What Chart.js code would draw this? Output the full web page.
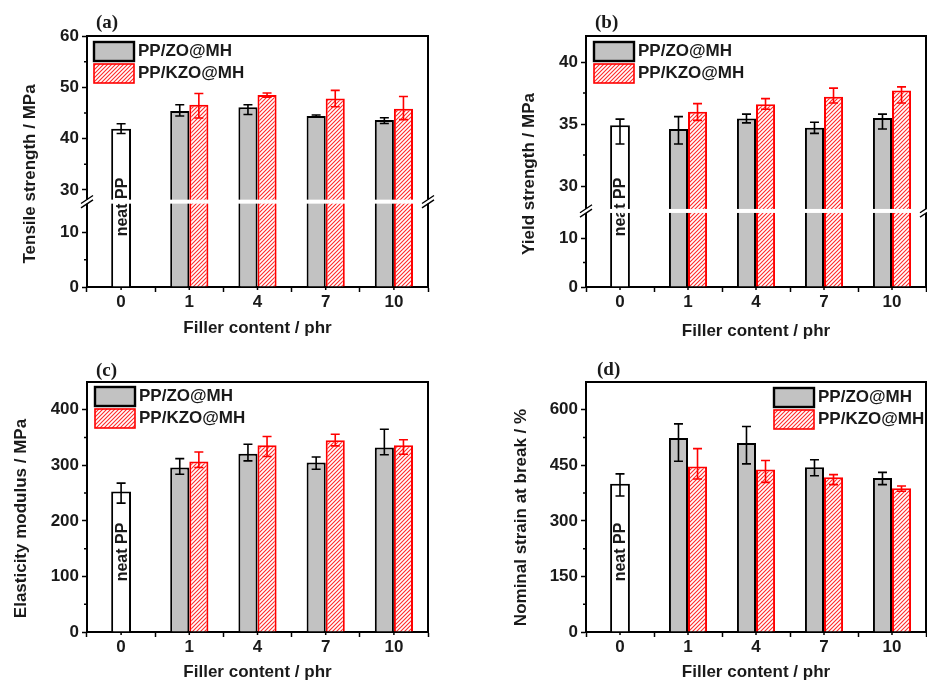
<!DOCTYPE html>
<html>
<head>
<meta charset="utf-8">
<script src="https://cdn.jsdelivr.net/npm/chart.js@4.4.1/dist/chart.umd.min.js"></script>
<style>
  body { margin: 0; background: #fff; }
  #wrap { position: relative; width: 927px; height: 682px; overflow: hidden; }
  canvas { position: absolute; }
</style>
</head>
<body>
<div id="wrap">
  <canvas id="chartA" width="460" height="340" style="left:0;top:0"></canvas>
  <canvas id="chartB" width="467" height="340" style="left:460px;top:0"></canvas>
  <canvas id="chartC" width="460" height="342" style="left:0;top:340px"></canvas>
  <canvas id="chartD" width="467" height="342" style="left:460px;top:340px"></canvas>
</div>
<script>
const categories = ['0', '1', '4', '7', '10'];
const seriesNames = ['PP/ZO@MH', 'PP/KZO@MH'];

// error bars are [minus, plus]
// (a) tensile strength / MPa
const tensileNeat = [41.9, null, null, null, null];
const tensileNeatErr = [[0.9, 1.0], null, null, null, null];
const tensileZO = [null, 45.4, 46.1, 44.4, 43.6];
const tensileZOErr = [null, [1.0, 1.2], [1.4, 0.5], [0.2, 0.2], [0.65, 0.45]];
const tensileKZO = [null, 46.6, 48.5, 47.8, 45.8];
const tensileKZOErr = [null, [2.6, 2.2], [0.45, 0.4], [1.6, 1.6], [2.1, 2.4]];

// (b) yield strength / MPa
const yieldNeat = [34.9, null, null, null, null];
const yieldNeatErr = [[1.5, 0.5], null, null, null, null];
const yieldZO = [null, 34.6, 35.45, 34.7, 35.5];
const yieldZOErr = [null, [1.2, 1.0], [0.35, 0.35], [0.45, 0.45], [0.9, 0.3]];
const yieldKZO = [null, 36.0, 36.6, 37.2, 37.7];
const yieldKZOErr = [null, [0.7, 0.65], [0.4, 0.45], [0.5, 0.7], [1.0, 0.3]];

// (c) elasticity modulus / MPa
const modulusNeat = [253, null, null, null, null];
const modulusNeatErr = [[21, 15], null, null, null, null];
const modulusZO = [null, 296, 321, 305, 332];
const modulusZOErr = [null, [12, 16], [13, 17], [12, 10], [13, 33]];
const modulusKZO = [null, 307, 336, 345, 336];
const modulusKZOErr = [null, [11, 17], [20, 16], [10, 11], [16, 10]];

// (d) nominal strain at break / %
const strainNeat = [400, null, null, null, null];
const strainNeatErr = [[33, 27], null, null, null, null];
const strainZO = [null, 524, 510, 445, 416];
const strainZOErr = [null, [63, 38], [56, 45], [23, 20], [18, 15]];
const strainKZO = [null, 447, 439, 418, 388];
const strainKZOErr = [null, [34, 48], [35, 24], [20, 7], [8, 6]];

const tensileTicks = [0, 10, 30, 40, 50, 60];
const yieldTicks = [0, 10, 30, 35, 40];
const modulusTicks = [0, 100, 200, 300, 400];
const strainTicks = [0, 150, 300, 450, 600];

const FONT = "'Liberation Sans', Arial, Helvetica, sans-serif";
const INK = '#1a1a1a';

// y scale with a gap between brk.lo and brk.hi
class BrokenScale extends Chart.LinearScale {
  static id = 'broken';
  static defaults = Chart.LinearScale.defaults;
  getPixelForValue(value) {
    if (value === null || isNaN(value)) return NaN;
    const b = this.options.brk;
    if (!b) return super.getPixelForValue(value);
    let dec;
    if (value <= b.lo) dec = (value - this.min) / (b.lo - this.min) * b.frac;
    else if (value >= b.hi) dec = b.frac + (value - b.hi) / (this.max - b.hi) * (1 - b.frac);
    else dec = b.frac;
    return this.getPixelForDecimal(dec);
  }
}
Chart.register(BrokenScale);

// red diagonal hatch
const hatch = (function() {
  const c = document.createElement('canvas');
  c.width = c.height = 4;
  const g = c.getContext('2d');
  g.fillStyle = '#fff';
  g.fillRect(0, 0, 4, 4);
  g.strokeStyle = '#ff2a2a';
  g.lineWidth = 1.1;
  g.beginPath();
  g.moveTo(0, 4); g.lineTo(4, 0);
  g.moveTo(-1, 1); g.lineTo(1, -1);
  g.moveTo(3, 5); g.lineTo(5, 3);
  g.stroke();
  return g.createPattern(c, 'repeat');
})();

const decor = {
  id: 'decor',
  afterDatasetsDraw(chart, args, opts) {
    const ctx = chart.ctx;
    const y = chart.scales.y;
    const area = chart.chartArea;
    // error bars
    chart.data.datasets.forEach((ds, di) => {
      const meta = chart.getDatasetMeta(di);
      ds.errors.forEach((e, i) => {
        if (!e) return;
        const bar = meta.data[i];
        const v = ds.data[i];
        const top = y.getPixelForValue(v + e[1]);
        const bot = y.getPixelForValue(v - e[0]);
        ctx.save();
        ctx.strokeStyle = ds.errorColor;
        ctx.lineWidth = 1.6;
        ctx.beginPath();
        ctx.moveTo(bar.x, top); ctx.lineTo(bar.x, bot);
        ctx.moveTo(bar.x - 4.5, top); ctx.lineTo(bar.x + 4.5, top);
        ctx.moveTo(bar.x - 4.5, bot); ctx.lineTo(bar.x + 4.5, bot);
        ctx.stroke();
        ctx.restore();
      });
    });
    // label inside the neat PP bar
    const neatBar = chart.getDatasetMeta(0).data[0];
    ctx.save();
    ctx.translate(neatBar.x, area.bottom - 80);
    ctx.rotate(-Math.PI / 2);
    ctx.font = 'bold 16px ' + FONT;
    ctx.fillStyle = INK;
    ctx.textAlign = 'center';
    ctx.textBaseline = 'middle';
    ctx.fillText('neat PP', 0, 1);
    ctx.restore();
  },
  afterDraw(chart, args, opts) {
    const ctx = chart.ctx;
    const area = chart.chartArea;
    const x = chart.scales.x;
    const y = chart.scales.y;
    ctx.save();
    // frame top and right
    ctx.strokeStyle = '#000';
    ctx.lineWidth = 2;
    ctx.beginPath();
    ctx.moveTo(area.left - 1, area.top);
    ctx.lineTo(area.right, area.top);
    ctx.lineTo(area.right, area.bottom + 1);
    ctx.stroke();
    // minor ticks
    ctx.lineWidth = 1.5;
    ctx.beginPath();
    opts.minor.forEach(v => {
      const py = y.getPixelForValue(v);
      ctx.moveTo(area.left - 3, py); ctx.lineTo(area.left, py);
    });
    categories.forEach((c, i) => {
      const px = x.getPixelForValue(i);
      ctx.moveTo(px, area.bottom); ctx.lineTo(px, area.bottom + 3);
    });
    ctx.stroke();
    // axis break
    const b = y.options.brk;
    if (b) {
      const py = y.getPixelForValue(b.lo);
      ctx.fillStyle = '#fff';
      ctx.fillRect(area.left - 6, py - 2, area.right - area.left + 12, 4);
      ctx.strokeStyle = '#000';
      ctx.lineWidth = 1.4;
      ctx.beginPath();
      [area.left, area.right].forEach(ax => {
        [-2.2, 2.2].forEach(d => {
          ctx.moveTo(ax - 6, py + d + 4);
          ctx.lineTo(ax + 6, py + d - 4);
        });
      });
      ctx.stroke();
    }
    // legend inside the plot
    const lg = opts.legend;
    chart.data.datasets.filter(ds => ds.inLegend).forEach((ds, k) => {
      const by = lg.y + k * 22;
      ctx.fillStyle = ds.backgroundColor;
      ctx.fillRect(lg.x, by, 40, 19);
      ctx.strokeStyle = ds.borderColor;
      ctx.lineWidth = k === 0 ? 2.4 : 1.6;
      ctx.strokeRect(lg.x, by, 40, 19);
      ctx.fillStyle = INK;
      ctx.font = 'bold 17px ' + FONT;
      ctx.textAlign = 'left';
      ctx.textBaseline = 'middle';
      ctx.fillText(ds.label, lg.x + 44, by + 9);
    });
    // panel tag
    ctx.fillStyle = INK;
    ctx.font = "bold 19px 'Liberation Serif', 'Times New Roman', serif";
    ctx.textAlign = 'left';
    ctx.textBaseline = 'middle';
    ctx.fillText(opts.tag, opts.tagX, opts.tagY);
    // y axis title
    ctx.translate(opts.yTitleX, opts.yTitleY);
    ctx.rotate(-Math.PI / 2);
    ctx.font = 'bold 17px ' + FONT;
    ctx.textAlign = 'center';
    ctx.fillText(opts.yTitle, 0, 0);
    ctx.restore();
  }
};

function panel(o) {
  return new Chart(document.getElementById(o.id), {
    type: 'bar',
    data: {
      labels: categories,
      datasets: [
        { label: 'neat PP', data: o.neat, errors: o.neatErr, errorColor: '#000',
          backgroundColor: '#fff', borderColor: '#000', borderWidth: 2, barPercentage: 0.52 },
        { label: seriesNames[0], data: o.zo, errors: o.zoErr, errorColor: '#000', inLegend: true,
          backgroundColor: '#c2c2c2', borderColor: '#000', borderWidth: 2 },
        { label: seriesNames[1], data: o.kzo, errors: o.kzoErr, errorColor: '#ff0000', inLegend: true,
          backgroundColor: hatch, borderColor: '#ff0000', borderWidth: 2 }
      ]
    },
    options: {
      responsive: false,
      animation: false,
      devicePixelRatio: 1,
      events: [],
      layout: { padding: { top: o.top, right: o.right, left: 0, bottom: 0 } },
      datasets: { bar: { skipNull: true, categoryPercentage: 0.56, barPercentage: 1 } },
      plugins: {
        legend: { display: false },
        tooltip: { enabled: false },
        decor: {
          minor: o.minor, legend: o.legend, tag: o.tag, tagX: o.tagX, tagY: o.tagY,
          yTitle: o.yTitle, yTitleX: o.yTitleX, yTitleY: o.yTitleY
        }
      },
      scales: {
        x: {
          type: 'category',
          grid: { drawOnChartArea: false, drawTicks: true, tickLength: 5, tickWidth: 1.5, tickColor: '#000', offset: true },
          border: { color: '#000', width: 2 },
          ticks: { padding: 0, color: INK, font: { family: FONT, size: 17, weight: 'bold' } },
          title: { display: true, text: 'Filler content / phr', color: INK,
                   font: { family: FONT, size: 17, weight: 'bold', lineHeight: 1 },
                   padding: { top: 0, bottom: o.xTitlePad } },
          afterFit: s => { s.height = o.axisH; }
        },
        y: {
          type: 'broken',
          min: 0,
          max: o.max,
          brk: o.brk,
          grid: { drawOnChartArea: false, drawTicks: true, tickLength: 5, tickWidth: 1.5, tickColor: '#000' },
          border: { color: '#000', width: 2 },
          ticks: { padding: 3, color: INK, autoSkip: false, font: { family: FONT, size: 17, weight: 'bold' },
                   callback: v => String(v) },
          afterBuildTicks: s => { s.ticks = o.ticks.map(v => ({ value: v })); },
          afterFit: s => { s.width = o.axisW; }
        }
      }
    },
    plugins: [decor]
  });
}

panel({
  id: 'chartA', neat: tensileNeat, neatErr: tensileNeatErr, zo: tensileZO, zoErr: tensileZOErr,
  kzo: tensileKZO, kzoErr: tensileKZOErr, ticks: tensileTicks, minor: [5, 35, 45, 55],
  max: 60, brk: { lo: 15.6, hi: 27.7, frac: 0.34 },
  top: 36, right: 32, axisW: 87, axisH: 53, xTitlePad: 3.5,
  yTitle: 'Tensile strength / MPa', yTitleX: 30, yTitleY: 174,
  tag: '(a)', tagX: 96, tagY: 23, legend: { x: 94, y: 42 }
});
panel({
  id: 'chartB', neat: yieldNeat, neatErr: yieldNeatErr, zo: yieldZO, zoErr: yieldZOErr,
  kzo: yieldKZO, kzoErr: yieldKZOErr, ticks: yieldTicks, minor: [5, 32.5, 37.5],
  max: 42.1, brk: { lo: 15.6, hi: 28, frac: 0.303 },
  top: 36, right: 1, axisW: 126, axisH: 53, xTitlePad: 0,
  yTitle: 'Yield strength / MPa', yTitleX: 69.5, yTitleY: 174,
  tag: '(b)', tagX: 135, tagY: 23, legend: { x: 134, y: 42 }
});
panel({
  id: 'chartC', neat: modulusNeat, neatErr: modulusNeatErr, zo: modulusZO, zoErr: modulusZOErr,
  kzo: modulusKZO, kzoErr: modulusKZOErr, ticks: modulusTicks, minor: [50, 150, 250, 350],
  max: 450, brk: null,
  top: 42, right: 32, axisW: 87, axisH: 50, xTitlePad: 1,
  yTitle: 'Elasticity modulus / MPa', yTitleX: 21, yTitleY: 178.5,
  tag: '(c)', tagX: 96, tagY: 31, legend: { x: 95, y: 47 }
});
panel({
  id: 'chartD', neat: strainNeat, neatErr: strainNeatErr, zo: strainZO, zoErr: strainZOErr,
  kzo: strainKZO, kzoErr: strainKZOErr, ticks: strainTicks, minor: [75, 225, 375, 525],
  max: 675, brk: null,
  top: 42, right: 1, axisW: 126, axisH: 50, xTitlePad: 1,
  yTitle: 'Nominal strain at break / %', yTitleX: 61, yTitleY: 177.5,
  tag: '(d)', tagX: 137, tagY: 30, legend: { x: 314, y: 48 }
});
</script>
</body>
</html>
